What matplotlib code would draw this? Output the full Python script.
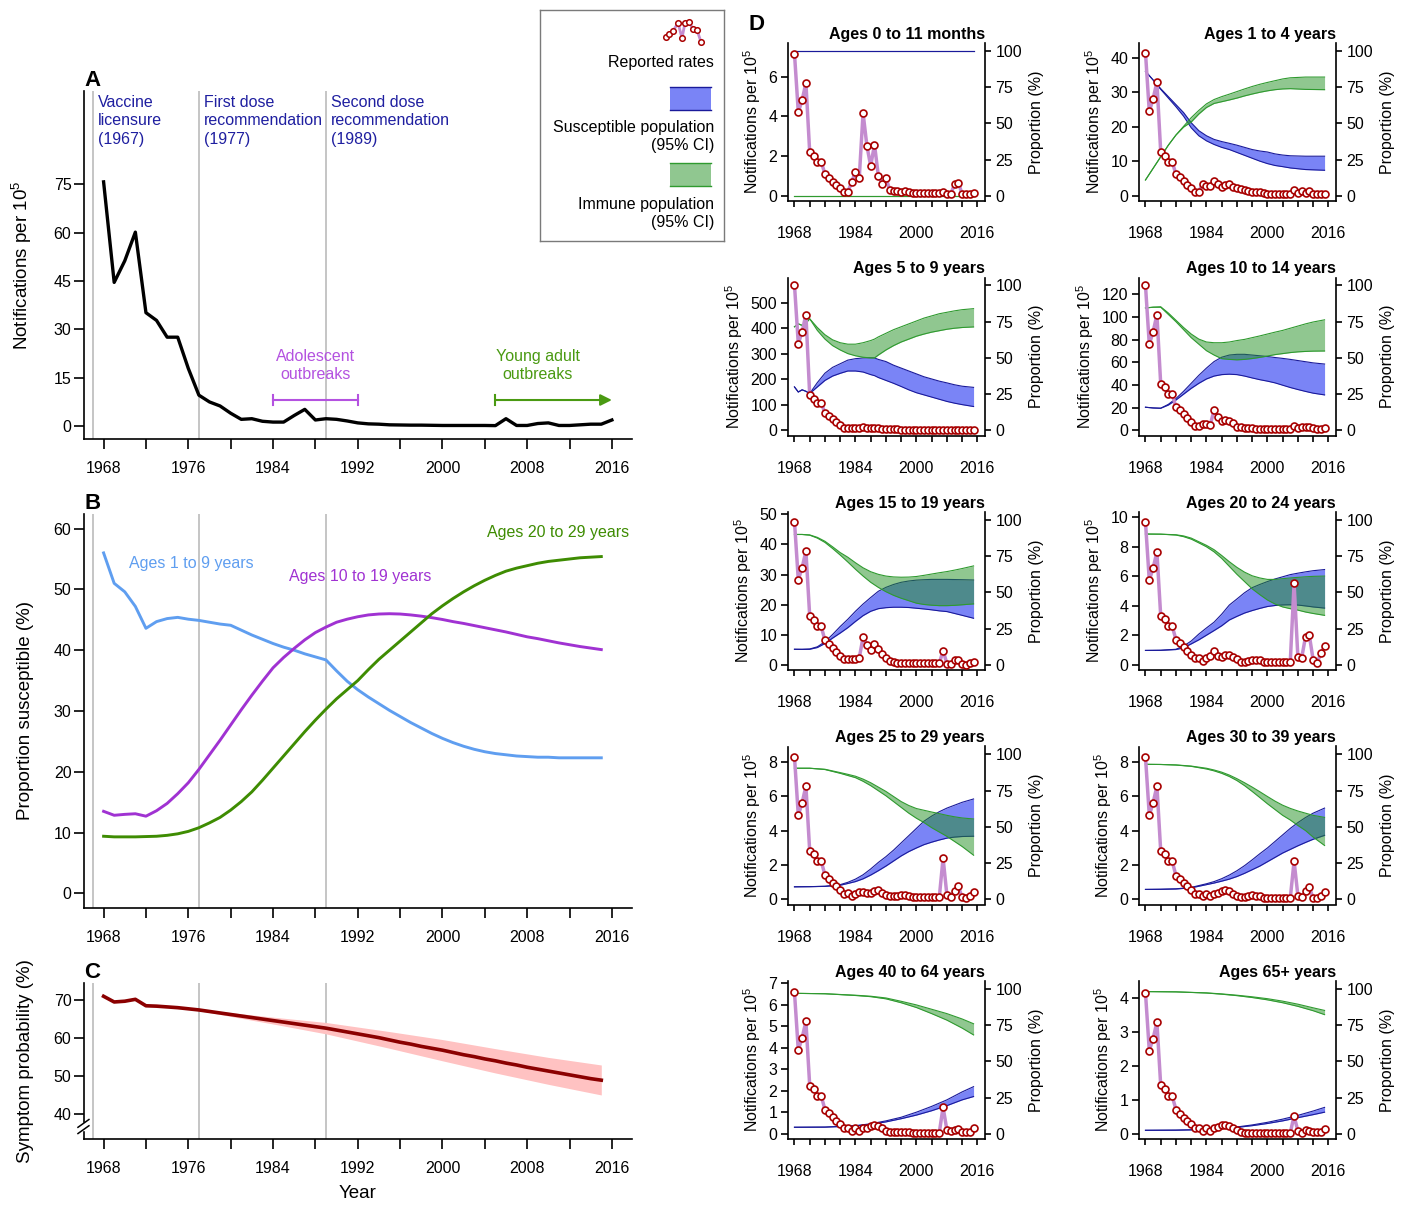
import numpy as np
import matplotlib
matplotlib.use("Agg")
import matplotlib.pyplot as plt
from matplotlib.patches import Rectangle

plt.rcParams['font.family'] = ['Liberation Sans', 'DejaVu Sans']
plt.rcParams['mathtext.fontset'] = 'custom'
plt.rcParams['mathtext.rm'] = 'Liberation Sans'
plt.rcParams['mathtext.it'] = 'Liberation Sans:italic'
plt.rcParams['mathtext.bf'] = 'Liberation Sans:bold'

#
# DATA
#

# panel A - national notifications per 100,000
years_a = np.arange(1968, 2017)
notif_a = [75.8, 44.6, 51.3, 60.2, 35.2, 32.8, 27.6, 27.6, 17.9, 9.6,
           7.5, 6.25, 4.0, 2.1, 2.3, 1.5, 1.25, 1.25, 3.3, 5.2,
           1.9, 2.3, 2.1, 1.6, 1.0, 0.7, 0.6, 0.4, 0.35, 0.3,
           0.3, 0.25, 0.2, 0.2, 0.2, 0.2, 0.2, 0.15, 2.3, 0.2,
           0.2, 0.8, 1.0, 0.2, 0.2, 0.4, 0.6, 0.6, 1.9]

event_years = [1967, 1977, 1989]
event_labels = ['Vaccine\nlicensure\n(1967)',
                'First dose\nrecommendation\n(1977)',
                'Second dose\nrecommendation\n(1989)']
adolescent_span = [1984, 1992]
young_adult_span = [2005, 2016]
outbreak_level = 8.1

# panel B - proportion susceptible
years_b = np.arange(1968, 2016)
sus_1_9 = [56.0, 51.0, 49.6, 47.2, 43.6, 44.7, 45.2, 45.4, 45.1, 44.9,
           44.6, 44.3, 44.1, 43.3, 42.5, 41.8, 41.1, 40.5, 40.0, 39.4,
           38.9, 38.4, 36.6, 34.9, 33.5, 32.3, 31.2, 30.1, 29.1, 28.1,
           27.2, 26.3, 25.5, 24.8, 24.2, 23.7, 23.3, 23.0, 22.8, 22.6,
           22.5, 22.4, 22.4, 22.3, 22.3, 22.3, 22.3, 22.3]
sus_10_19 = [13.5, 12.85, 13.0, 13.1, 12.7, 13.6, 14.8, 16.4, 18.2, 20.4,
             22.8, 25.2, 27.7, 30.2, 32.6, 34.9, 37.1, 38.8, 40.3, 41.7,
             42.9, 43.8, 44.6, 45.1, 45.5, 45.8, 45.95, 46.0, 45.95, 45.8,
             45.6, 45.35, 45.05, 44.7, 44.4, 44.05, 43.7, 43.35, 43.0, 42.6,
             42.2, 41.9, 41.55, 41.2, 40.9, 40.6, 40.35, 40.1]
sus_20_29 = [9.4, 9.3, 9.3, 9.3, 9.35, 9.4, 9.55, 9.8, 10.2, 10.8,
             11.6, 12.5, 13.7, 15.1, 16.7, 18.6, 20.6, 22.6, 24.6, 26.6,
             28.5, 30.3, 32.0, 33.5, 35.0, 36.8, 38.5, 40.0, 41.5, 43.0,
             44.5, 46.0, 47.3, 48.5, 49.6, 50.6, 51.5, 52.3, 53.0, 53.5,
             53.9, 54.3, 54.6, 54.8, 55.0, 55.2, 55.3, 55.4]

# panel C - symptom probability
symptom_c = [71.0, 69.5, 69.7, 70.2, 68.5, 68.4, 68.2, 68.0, 67.7, 67.4,
             67.0, 66.6, 66.2, 65.8, 65.4, 65.0, 64.6, 64.2, 63.8, 63.4,
             63.0, 62.6, 62.1, 61.6, 61.1, 60.6, 60.1, 59.5, 58.9, 58.4,
             57.8, 57.3, 56.8, 56.2, 55.6, 55.1, 54.5, 54.0, 53.4, 52.9,
             52.3, 51.8, 51.3, 50.8, 50.3, 49.8, 49.3, 48.9]
symptom_ci_years = [1972, 1974, 1977, 1980, 1984, 1989, 1995, 2000, 2005, 2010, 2015]
symptom_ci_lo = [68.5, 68.15, 67.2, 65.7, 63.7, 61.1, 57.3, 54.0, 50.8, 47.8, 45.0]
symptom_ci_hi = [68.5, 68.3, 67.6, 66.7, 65.5, 64.1, 61.7, 59.6, 57.2, 54.9, 52.9]

# panel D - reported rates (1968-2015) and modelled susceptible / immune bands (%)
years_d = np.arange(1968, 2016)
d_titles = ['Ages 0 to 11 months', 'Ages 1 to 4 years', 'Ages 5 to 9 years',
            'Ages 10 to 14 years', 'Ages 15 to 19 years', 'Ages 20 to 24 years',
            'Ages 25 to 29 years', 'Ages 30 to 39 years', 'Ages 40 to 64 years',
            'Ages 65+ years']

rep_0_11m = [7.16, 4.22, 4.81, 5.69, 2.18, 2.01, 1.71, 1.71, 1.10, 0.91,
             0.71, 0.54, 0.37, 0.20, 0.19, 0.68, 1.20, 0.90, 4.17, 2.52,
             1.50, 2.58, 1.01, 0.59, 0.90, 0.29, 0.25, 0.24, 0.20, 0.24,
             0.20, 0.12, 0.12, 0.12, 0.12, 0.12, 0.12, 0.12, 0.12, 0.17,
             0.10, 0.08, 0.57, 0.66, 0.08, 0.08, 0.07, 0.15]
band_yrs_0_11m = [1968, 2015]
sus_lo_0_11m = [100, 100]
sus_hi_0_11m = [100, 100]
imm_lo_0_11m = [0, 0]
imm_hi_0_11m = [0, 0]

rep_1_4 = [41.4, 24.4, 28.0, 32.9, 12.7, 11.6, 9.8, 9.8, 6.2, 5.3,
           4.1, 3.1, 2.1, 1.05, 1.15, 3.5, 2.8, 2.8, 4.2, 3.4,
           2.6, 3.2, 3.4, 2.6, 2.3, 1.9, 1.6, 1.3, 1.15, 0.95,
           0.95, 0.8, 0.5, 0.5, 0.5, 0.5, 0.5, 0.5, 0.5, 1.5,
           0.7, 1.25, 0.8, 1.4, 0.4, 0.4, 0.4, 0.5]
band_yrs_1_4 = [1968, 1970, 1972, 1974, 1976, 1978, 1980, 1982, 1984, 1986, 1988,
                1990, 1992, 1994, 1996, 1998, 2000, 2002, 2004, 2006, 2010, 2015]
sus_hi_1_4 = [86, 80, 74, 68.5, 63, 57.5, 50.5, 45, 41.5, 39, 37.5,
              36.3, 35, 33.5, 32, 31, 30.3, 29, 28.2, 27.7, 27.4, 27.4]
sus_lo_1_4 = [86, 80, 73.5, 67.5, 61.5, 55, 47, 41.5, 38, 35.5, 33.5,
              32, 30, 28, 26, 24, 22.3, 21, 20.2, 19.3, 18.2, 17.7]
imm_hi_1_4 = [11, 19, 27, 35, 42, 48, 54, 59, 63.5, 66.5, 68.5,
              70.2, 72, 73.8, 75.5, 77, 78.3, 79.5, 80.7, 81.5, 82, 82]
imm_lo_1_4 = [11, 19, 27, 35, 42, 47.5, 51, 56.5, 61, 63.8, 65,
              66.2, 67.5, 69, 70.3, 71.5, 72.5, 73.3, 73.8, 74, 73.5, 73.3]

rep_5_9 = [569, 339, 385, 453, 136, 124, 106, 106, 68, 55,
           43, 31, 21, 10, 9, 8, 6.5, 6.5, 13, 10,
           8, 9, 6.5, 5, 4.5, 4, 3.5, 3, 2.5, 2.2,
           2, 1.8, 1.5, 1.5, 1.5, 1.5, 1.5, 1.5, 1.5, 1.5,
           1.5, 1.5, 1.5, 1.5, 1.5, 1.5, 1.5, 1.5]
band_yrs_5_9 = [1968, 1969, 1970, 1971, 1972, 1974, 1976, 1978, 1980, 1982, 1984, 1986, 1988, 1989,
                1990, 1992, 1994, 1996, 1998, 2000, 2002, 2004, 2006, 2008, 2010, 2012, 2015]
sus_hi_5_9 = [30, 26.5, 28, 27, 25.5, 33, 39.5, 43.5, 46, 48.5, 49.5, 50, 50.1, 50,
              49, 47.5, 45, 43, 41, 39, 37, 35.5, 34, 32.8, 31.5, 30.5, 29.7]
sus_lo_5_9 = [30, 26.5, 28, 27, 25.5, 30, 34.5, 37.5, 39.4, 41, 41, 40.3, 38.5, 37.8,
              36.5, 34.5, 32.5, 30.3, 28, 26, 24.5, 23, 21.5, 20, 18.8, 17.8, 16.5]
imm_hi_5_9 = [71.5, 73.5, 72.5, 74, 77, 71, 66, 62.5, 60.5, 59.5, 59.5, 60.5, 62, 63,
              64.5, 67, 69.5, 71.5, 73.5, 75.5, 77.5, 79, 80.5, 81.5, 82.5, 83.3, 84]
imm_lo_5_9 = [71.5, 73.5, 72.5, 74, 77, 69, 63, 58.5, 55.5, 53, 51.5, 50.5, 50, 50,
              52, 55.5, 58.5, 61, 63, 65, 66.5, 67.8, 68.8, 69.8, 70.5, 71, 71.4]

rep_10_14 = [128, 76, 87, 102, 40.7, 38, 32, 32, 20.4, 17.4,
             13.9, 10.9, 7.4, 4.1, 4.1, 5.3, 5.6, 4.7, 17.7, 11.8,
             8.3, 8.8, 8, 5.9, 3.2, 2.7, 2.1, 1.8, 1.5, 1.2,
             1.2, 1.2, 1.2, 1.2, 1.2, 1.2, 1.2, 1.2, 1.2, 3.5,
             1.8, 2.7, 2.7, 3.2, 1.5, 1.2, 1.2, 1.5]
band_yrs_10_14 = [1968, 1970, 1972, 1974, 1976, 1978, 1980, 1982, 1984, 1986, 1988, 1990,
                  1992, 1994, 1996, 1998, 2000, 2002, 2004, 2006, 2008, 2010, 2012, 2015]
sus_hi_10_14 = [16, 15.5, 15.3, 18, 22, 27, 32.5, 38, 43, 47.5, 50.5, 52,
                52.5, 52.5, 52, 51.5, 51, 50.3, 49.7, 49, 48.2, 47.4, 46.6, 45.8]
sus_lo_10_14 = [16, 15.5, 15.3, 17.5, 21, 25, 29, 32.5, 35.5, 37.5, 38.5, 38.8,
                38.5, 37.5, 36.2, 35, 34, 32.8, 31.2, 29.6, 28.2, 26.9, 25.7, 24.5]
imm_hi_10_14 = [84.5, 85, 85.3, 81, 76, 71, 66.5, 63, 61, 60.5, 60.5, 61,
                62, 62.8, 64, 65.2, 66.5, 67.8, 69, 70.5, 72, 73.5, 74.8, 76.3]
imm_lo_10_14 = [84.5, 85, 85, 80, 75, 69.5, 64, 59.5, 55, 52, 49.5, 49,
                48.7, 49, 49.6, 50.4, 51.3, 52.3, 53, 53.7, 54.2, 54.5, 54.7, 54.8]

rep_15_19 = [47.6, 28.3, 32.2, 37.8, 16.1, 15.0, 12.8, 12.8, 8.1, 6.9,
             5.6, 4.2, 3.0, 1.9, 1.9, 2.0, 2.0, 2.3, 9.1, 6.7,
             5.0, 6.8, 5.3, 3.6, 2.2, 1.2, 0.8, 0.55, 0.4, 0.4,
             0.4, 0.4, 0.4, 0.4, 0.4, 0.4, 0.4, 0.4, 0.4, 4.7,
             0.35, 0.35, 1.6, 1.7, 0.35, 0.05, 0.6, 1.0]
band_yrs_15_19 = [1968, 1970, 1972, 1974, 1976, 1978, 1980, 1982, 1984, 1986, 1988, 1990,
                  1992, 1994, 1996, 1998, 2000, 2002, 2004, 2006, 2008, 2010, 2012, 2015]
sus_hi_15_19 = [10.8, 10.8, 11, 12.5, 16, 21, 26.5, 31.5, 37, 42, 46.5, 50.8,
                53.5, 55.5, 57, 57.9, 58.5, 58.8, 59, 59, 59, 58.9, 58.8, 58.6]
sus_lo_15_19 = [10.8, 10.7, 10.8, 12, 14.8, 18.5, 22, 25.7, 30, 34, 37, 38.8,
                39.5, 39.8, 39.8, 39.6, 39.1, 38.6, 38, 37.3, 36.8, 35.5, 34.2, 32.2]
imm_hi_15_19 = [90, 90, 89.7, 88, 85.3, 81.5, 77.5, 74.3, 70.5, 67, 64.3, 62.5,
                61.3, 60.7, 60.5, 60.6, 61, 61.8, 62.7, 63.6, 64.4, 65.4, 66.5, 68.3]
imm_lo_15_19 = [90, 90, 89.5, 87.5, 84.5, 80.3, 75.8, 71, 66, 61.3, 57, 53.5,
                50.5, 48, 46, 44.3, 42.6, 41.7, 41.2, 40.9, 40.9, 41.1, 41.5, 42.1]

rep_20_24 = [9.64, 5.73, 6.54, 7.64, 3.30, 3.08, 2.63, 2.63, 1.69, 1.44,
             1.17, 0.90, 0.65, 0.43, 0.43, 0.22, 0.43, 0.56, 0.94, 0.61,
             0.49, 0.67, 0.67, 0.54, 0.38, 0.20, 0.20, 0.27, 0.31, 0.31,
             0.31, 0.20, 0.20, 0.20, 0.20, 0.20, 0.20, 0.20, 0.20, 5.51,
             0.49, 0.47, 1.89, 1.98, 0.34, 0.09, 0.76, 1.24]
band_yrs_20_24 = [1968, 1972, 1976, 1978, 1980, 1982, 1984, 1986, 1988, 1990, 1992,
                  1994, 1996, 1998, 2000, 2002, 2004, 2006, 2008, 2010, 2012, 2015]
sus_hi_20_24 = [10, 10.1, 10.8, 13, 16.5, 21.3, 25.5, 29.5, 35, 41.3, 45.5,
                49.8, 53.3, 55.5, 57.5, 59.3, 60.8, 62.3, 63.3, 64.2, 65, 65.8]
sus_lo_20_24 = [10, 10.1, 10.6, 11.8, 14.5, 17.3, 20.5, 23.7, 27, 31, 33.5,
                35.8, 37.5, 39, 40.3, 41, 41.4, 41.5, 41.3, 40.7, 40, 39.2]
imm_hi_20_24 = [90.3, 90.2, 89.8, 89, 87.5, 85, 82.5, 79.5, 75.5, 71.2, 67.3,
                64, 61.5, 60, 59, 59, 59.5, 60, 60.4, 60.8, 61.1, 61.3]
imm_lo_20_24 = [90.3, 90.2, 89.6, 88.5, 86.8, 84.2, 81.5, 78, 73.5, 68, 62.5,
                57.5, 52.5, 48.5, 44.8, 42, 40, 38.8, 37.8, 36.5, 35.5, 34.2]

rep_25_29 = [8.29, 4.90, 5.61, 6.59, 2.80, 2.61, 2.22, 2.22, 1.41, 1.18,
             0.94, 0.75, 0.51, 0.31, 0.35, 0.16, 0.31, 0.39, 0.39, 0.35,
             0.35, 0.49, 0.51, 0.35, 0.22, 0.16, 0.16, 0.20, 0.25, 0.25,
             0.20, 0.10, 0.10, 0.10, 0.10, 0.10, 0.10, 0.10, 0.10, 2.39,
             0.24, 0.14, 0.45, 0.75, 0.10, 0.06, 0.16, 0.39]
band_yrs_25_29 = [1968, 1972, 1976, 1980, 1982, 1984, 1986, 1988, 1990, 1992, 1994,
                  1996, 1998, 2000, 2002, 2004, 2006, 2008, 2010, 2012, 2015]
sus_hi_25_29 = [8.7, 8.8, 9.1, 10.2, 11.8, 14, 17, 21, 25.5, 29.5, 34,
                39, 44, 49, 54, 57.5, 60.5, 63, 65, 67, 69.3]
sus_lo_25_29 = [8.7, 8.8, 9.0, 9.8, 11, 12.3, 14.2, 16.8, 19.8, 23, 26.5,
                30, 33, 35.5, 37.8, 39.5, 41, 42.3, 43, 43.4, 43.6]
imm_hi_25_29 = [90.5, 90.5, 89.8, 87.5, 86.3, 85, 83, 80.5, 77.5, 74.5, 71,
                67.5, 64.8, 62.7, 61.5, 60.3, 59.2, 58, 57, 56.2, 55.5]
imm_lo_25_29 = [90.5, 90.5, 89.6, 87, 85.5, 84, 81.5, 78.5, 75, 71.5, 67.5,
                63.5, 59.5, 56, 53, 49.5, 46.5, 43.5, 40, 36.5, 30.5]

rep_30_39 = [8.29, 4.90, 5.61, 6.59, 2.80, 2.61, 2.22, 2.22, 1.37, 1.18,
             0.94, 0.75, 0.51, 0.31, 0.31, 0.16, 0.31, 0.16, 0.31, 0.35,
             0.47, 0.51, 0.45, 0.31, 0.20, 0.12, 0.12, 0.16, 0.24, 0.20,
             0.16, 0.06, 0.06, 0.06, 0.06, 0.06, 0.06, 0.06, 0.06, 2.22,
             0.20, 0.10, 0.45, 0.69, 0.06, 0.06, 0.16, 0.39]
band_yrs_30_39 = [1968, 1972, 1976, 1980, 1984, 1986, 1988, 1990, 1992, 1994,
                  1996, 1998, 2000, 2002, 2004, 2006, 2008, 2010, 2012, 2015]
sus_hi_30_39 = [6.9, 7.0, 7.3, 8.3, 10.8, 12.3, 14.3, 16.8, 19.8, 23.3,
                27.3, 31.5, 35.5, 40, 44.5, 49, 53, 56.5, 59.5, 63]
sus_lo_30_39 = [6.9, 7.0, 7.2, 8.0, 10.2, 11.3, 12.6, 14, 15.8, 18,
                20.5, 23, 26, 29, 32, 34.5, 37, 39.3, 41.5, 44.2]
imm_hi_30_39 = [93.2, 93.1, 92.8, 92, 90.5, 89.3, 87.8, 85.8, 83.3, 80.5,
                77.5, 74.3, 71, 67.8, 65, 62.8, 61, 59.5, 58, 56.6]
imm_lo_30_39 = [93.2, 93.1, 92.7, 91.8, 90, 88.7, 87, 84.8, 82, 78.5,
                74.5, 70.3, 66, 62, 58, 54.8, 51, 47.5, 43, 37.2]

rep_40_64 = [6.57, 3.89, 4.45, 5.22, 2.23, 2.07, 1.77, 1.77, 1.12, 0.94,
             0.77, 0.58, 0.43, 0.25, 0.28, 0.12, 0.25, 0.12, 0.25, 0.28,
             0.35, 0.40, 0.35, 0.25, 0.12, 0.09, 0.09, 0.09, 0.09, 0.09,
             0.08, 0.05, 0.05, 0.05, 0.05, 0.05, 0.05, 0.05, 0.05, 1.23,
             0.17, 0.12, 0.17, 0.20, 0.09, 0.08, 0.08, 0.28]
band_yrs_40_64 = [1968, 1976, 1984, 1988, 1992, 1996, 2000, 2004, 2008, 2012, 2015]
sus_hi_40_64 = [4.6, 4.7, 5.7, 7, 9, 11.5, 15, 19, 23.5, 29, 32.6]
sus_lo_40_64 = [4.6, 4.7, 5.5, 6.6, 8.3, 10.5, 13, 16, 19.5, 23.5, 25.8]
imm_hi_40_64 = [97, 96.7, 95.7, 95, 93.8, 91.5, 89, 86, 83, 79.3, 76]
imm_lo_40_64 = [97, 96.7, 95.5, 94.7, 93.2, 90.5, 87.2, 83, 78.5, 73, 68.3]

rep_65_plus = [4.15, 2.45, 2.80, 3.29, 1.42, 1.32, 1.11, 1.11, 0.71, 0.59,
               0.47, 0.37, 0.27, 0.16, 0.18, 0.08, 0.16, 0.08, 0.16, 0.20,
               0.25, 0.25, 0.23, 0.16, 0.10, 0.06, 0.03, 0.03, 0.03, 0.03,
               0.03, 0.03, 0.03, 0.03, 0.03, 0.03, 0.03, 0.03, 0.03, 0.52,
               0.08, 0.03, 0.10, 0.08, 0.06, 0.06, 0.06, 0.13]
band_yrs_65_plus = [1968, 1976, 1984, 1988, 1992, 1996, 2000, 2004, 2008, 2012, 2015]
sus_hi_65_plus = [2.5, 2.6, 3.1, 3.8, 4.8, 6.2, 8, 10.2, 12.8, 15.8, 18.3]
sus_lo_65_plus = [2.5, 2.6, 3.0, 3.6, 4.5, 5.7, 7.2, 9, 11.2, 13.3, 15]
imm_hi_65_plus = [98.2, 98, 97.3, 96.6, 95.7, 94.6, 93.3, 91.6, 89.5, 87, 85.2]
imm_lo_65_plus = [98.2, 98, 97.2, 96.4, 95.4, 94.1, 92.5, 90.5, 88, 85, 82.3]

d_reported = [rep_0_11m, rep_1_4, rep_5_9, rep_10_14, rep_15_19,
              rep_20_24, rep_25_29, rep_30_39, rep_40_64, rep_65_plus]
d_band_years = [band_yrs_0_11m, band_yrs_1_4, band_yrs_5_9, band_yrs_10_14, band_yrs_15_19,
                band_yrs_20_24, band_yrs_25_29, band_yrs_30_39, band_yrs_40_64, band_yrs_65_plus]
d_sus_lo = [sus_lo_0_11m, sus_lo_1_4, sus_lo_5_9, sus_lo_10_14, sus_lo_15_19,
            sus_lo_20_24, sus_lo_25_29, sus_lo_30_39, sus_lo_40_64, sus_lo_65_plus]
d_sus_hi = [sus_hi_0_11m, sus_hi_1_4, sus_hi_5_9, sus_hi_10_14, sus_hi_15_19,
            sus_hi_20_24, sus_hi_25_29, sus_hi_30_39, sus_hi_40_64, sus_hi_65_plus]
d_imm_lo = [imm_lo_0_11m, imm_lo_1_4, imm_lo_5_9, imm_lo_10_14, imm_lo_15_19,
            imm_lo_20_24, imm_lo_25_29, imm_lo_30_39, imm_lo_40_64, imm_lo_65_plus]
d_imm_hi = [imm_hi_0_11m, imm_hi_1_4, imm_hi_5_9, imm_hi_10_14, imm_hi_15_19,
            imm_hi_20_24, imm_hi_25_29, imm_hi_30_39, imm_hi_40_64, imm_hi_65_plus]
# left axis top and tick step for each small panel
d_ytop = [7.7, 44.2, 598, 135, 50.8, 10.35, 8.9, 8.9, 7.1, 4.5]
d_ystep = [2, 10, 100, 20, 10, 2, 2, 2, 1, 1]

# legend sample glyph (reported rates)
legend_glyph_x = [126, 129, 133, 138, 142, 145, 149, 153, 157, 161]
legend_glyph_y = [27, 24, 21, 13, 28, 13, 12, 19, 20, 32]

#
# STYLE
#

c_event = '#1f1fa0'
c_vline = '#b5b5b5'
c_adol = '#b452e0'
c_young = '#4a9a12'
c_blue = '#5f9ef0'
c_purple = '#a032d2'
c_green = '#3e8c02'
c_sym = '#8b0000'
c_sym_ci = '#ffc2c2'
c_rep_line = '#c48ccf'
c_rep_edge = '#a80000'
c_sus_fill = '#7a84f6'
c_sus_edge = '#1a1a9a'
c_imm_fill = '#239123'
c_imm_edge = '#2f9a2f'

TICK = 11.5

fig = plt.figure(figsize=(14.06, 12.05), dpi=100)
W, H = 1406.0, 1205.0


def px_axes(x0, y0, x1, y1):
    return fig.add_axes([x0 / W, 1 - y1 / H, (x1 - x0) / W, (y1 - y0) / H])


def year_axis(ax, every, length, pad):
    ticks = list(range(1968, 2017, 4))
    ax.set_xticks(ticks)
    ax.set_xticklabels([str(t) if (t - 1968) % every == 0 else '' for t in ticks])
    ax.tick_params(axis='x', length=length, width=1.2, pad=pad, labelsize=TICK)
    for s in ('top', 'right'):
        ax.spines[s].set_visible(False)
    for s in ('left', 'bottom'):
        ax.spines[s].set_linewidth(1.2)


def left_panel(ax, ylim, yticks, letter):
    ax.set_xlim(1966.15, 2017.9)
    ax.set_ylim(*ylim)
    ax.set_yticks(yticks)
    year_axis(ax, 8, 7, 9)
    ax.tick_params(axis='y', length=7, width=1.2, pad=2, labelsize=TICK)
    for v in event_years:
        ax.axvline(v, color=c_vline, lw=1.1, zorder=0)
    ax.text(0.0, 1.0, letter, transform=ax.transAxes, fontsize=16,
            fontweight='bold', ha='left', va='bottom')
    ax.yaxis.set_label_coords(-0.091, 0.5)


#
# PANEL A
#

axA = px_axes(84, 91, 632, 439)
axA.plot(years_a, notif_a, color='black', lw=2.4, solid_joinstyle='round')
left_panel(axA, (-4, 104), [0, 15, 30, 45, 60, 75], 'A')
axA.set_ylabel('Notifications per 10$^5$', fontsize=13.5)
for v, lab in zip(event_years, event_labels):
    axA.text(v + 0.45, 102.8, lab, color=c_event, fontsize=11.5, ha='left',
             va='top', linespacing=1.28)

a0, a1 = adolescent_span
axA.plot([a0, a1], [outbreak_level, outbreak_level], color=c_adol, lw=1.5)
for v in adolescent_span:
    axA.plot([v, v], [outbreak_level - 1.7, outbreak_level + 1.7], color=c_adol, lw=1.5)
axA.text((a0 + a1) / 2, 18.9, 'Adolescent\noutbreaks', color=c_adol,
         fontsize=11.5, ha='center', va='center', linespacing=1.25)

y0, y1 = young_adult_span
axA.annotate('', xy=(y1, outbreak_level), xytext=(y0, outbreak_level),
             arrowprops=dict(arrowstyle='-|>', color=c_young, lw=1.5,
                             mutation_scale=17, shrinkA=0, shrinkB=0))
axA.plot([y0, y0], [outbreak_level - 1.7, outbreak_level + 1.7], color=c_young, lw=1.5)
axA.text(2009, 18.9, 'Young adult\noutbreaks', color=c_young,
         fontsize=11.5, ha='center', va='center', linespacing=1.25)

#
# PANEL B
#

axB = px_axes(84, 514, 632, 908)
axB.plot(years_b, sus_1_9, color=c_blue, lw=2.1)
axB.plot(years_b, sus_10_19, color=c_purple, lw=2.1)
axB.plot(years_b, sus_20_29, color=c_green, lw=2.1)
left_panel(axB, (-2.4, 62.4), [0, 10, 20, 30, 40, 50, 60], 'B')
axB.set_ylabel('Proportion susceptible (%)', fontsize=13.5)
axB.text(1970.4, 54.2, 'Ages 1 to 9 years', color=c_blue, fontsize=11.5, ha='left', va='center')
axB.text(1985.5, 52.2, 'Ages 10 to 19 years', color=c_purple, fontsize=11.5, ha='left', va='center')
axB.text(2017.6, 59.3, 'Ages 20 to 29 years', color=c_green, fontsize=11.5, ha='right', va='center')

#
# PANEL C
#

axC = px_axes(84, 983, 632, 1139)
axC.fill_between(symptom_ci_years, symptom_ci_lo, symptom_ci_hi, color=c_sym_ci, lw=0)
axC.plot(years_b, symptom_c, color=c_sym, lw=2.6)
left_panel(axC, (33.4, 74.5), [40, 50, 60, 70], 'C')
axC.set_ylabel('Symptom probability (%)', fontsize=13.5)
axC.set_xlabel('Year', fontsize=13.5, labelpad=6)
# axis break marks
axC.add_patch(Rectangle((-0.006, 0.055), 0.012, 0.05, transform=axC.transAxes,
                        color='white', clip_on=False, zorder=5))
for off in (-0.02, 0.02):
    axC.plot([-0.011, 0.009], [0.055 + off, 0.105 + off], transform=axC.transAxes,
             color='black', lw=1.1, clip_on=False, zorder=6)

#
# PANEL D
#

col_x = [(788, 985), (1139, 1336)]
for i in range(10):
    r, c = divmod(i, 2)
    top = 43 + 234.5 * r
    axL = px_axes(col_x[c][0], top, col_x[c][1], top + 158)
    axR = axL.twinx()
    axL.set_zorder(axR.get_zorder() + 1)
    axL.patch.set_visible(False)

    yrs = d_band_years[i]
    axR.fill_between(yrs, d_sus_lo[i], d_sus_hi[i], color=c_sus_fill, lw=0, zorder=1)
    axR.plot(yrs, d_sus_lo[i], color=c_sus_edge, lw=0.8, zorder=2)
    axR.plot(yrs, d_sus_hi[i], color=c_sus_edge, lw=0.8, zorder=2)
    axR.fill_between(yrs, d_imm_lo[i], d_imm_hi[i], color=c_imm_fill, alpha=0.5, lw=0, zorder=3)
    axR.plot(yrs, d_imm_lo[i], color=c_imm_edge, lw=0.8, zorder=4)
    axR.plot(yrs, d_imm_hi[i], color=c_imm_edge, lw=0.8, zorder=4)
    axR.set_ylim(-3.5, 105.5)
    axR.set_yticks([0, 25, 50, 75, 100])
    axR.tick_params(axis='y', length=4, width=1.2, pad=3.5, labelsize=TICK)
    for s in ('top', 'left', 'bottom'):
        axR.spines[s].set_visible(False)
    axR.spines['right'].set_linewidth(1.2)
    axR.set_ylabel('Proportion (%)', fontsize=11.5, labelpad=5)

    axL.plot(years_d, d_reported[i], color=c_rep_line, lw=2.5, zorder=2)
    axL.plot(years_d, d_reported[i], 'o', ms=5, mfc='white', mec=c_rep_edge,
             mew=1.2, zorder=3)
    ytop = d_ytop[i]
    axL.set_ylim(-0.035 * ytop, ytop)
    axL.set_yticks(np.arange(0, ytop + 1e-9, d_ystep[i]))
    axL.set_xlim(1966.3, 2018.0)
    year_axis(axL, 16, 4.5, 13.5)
    axL.tick_params(axis='y', length=4.8, width=1.2, pad=3, labelsize=TICK)
    axL.set_ylabel('Notifications per 10$^5$', fontsize=11.5, labelpad=4)
    axL.set_title(d_titles[i], loc='right', fontsize=11.5, fontweight='bold', pad=3)

fig.text(757 / W, 1 - 24 / H, 'D', fontsize=16, fontweight='bold', ha='center', va='center')

#
# LEGEND
#

axLeg = px_axes(540, 10, 724, 241)
axLeg.set_xlim(0, 184)
axLeg.set_ylim(231, 0)
axLeg.set_xticks([])
axLeg.set_yticks([])
for s in axLeg.spines.values():
    s.set_color('#7a7a7a')
    s.set_linewidth(1.0)
axLeg.plot(legend_glyph_x, legend_glyph_y, color=c_rep_line, lw=2)
axLeg.plot(legend_glyph_x, legend_glyph_y, 'o', ms=4, mfc='white', mec=c_rep_edge, mew=1.1)
axLeg.text(174, 52, 'Reported rates', fontsize=11.5, ha='right', va='center')
axLeg.add_patch(Rectangle((130, 77), 41, 23, facecolor=c_sus_fill, edgecolor='none'))
axLeg.plot([130, 171], [77, 77], color=c_sus_edge, lw=1)
axLeg.plot([130, 171], [100, 100], color=c_sus_edge, lw=1)
axLeg.text(174, 126.5, 'Susceptible population\n(95% CI)', fontsize=11.5,
           ha='right', va='center', multialignment='right', linespacing=1.25)
axLeg.add_patch(Rectangle((130, 153), 41, 23, facecolor=c_imm_fill, alpha=0.5, edgecolor='none'))
axLeg.plot([130, 171], [153, 153], color=c_imm_edge, lw=1)
axLeg.plot([130, 171], [176, 176], color=c_imm_edge, lw=1)
axLeg.text(174, 203.5, 'Immune population\n(95% CI)', fontsize=11.5,
           ha='right', va='center', multialignment='right', linespacing=1.25)

fig.savefig('out.png', dpi=100)
